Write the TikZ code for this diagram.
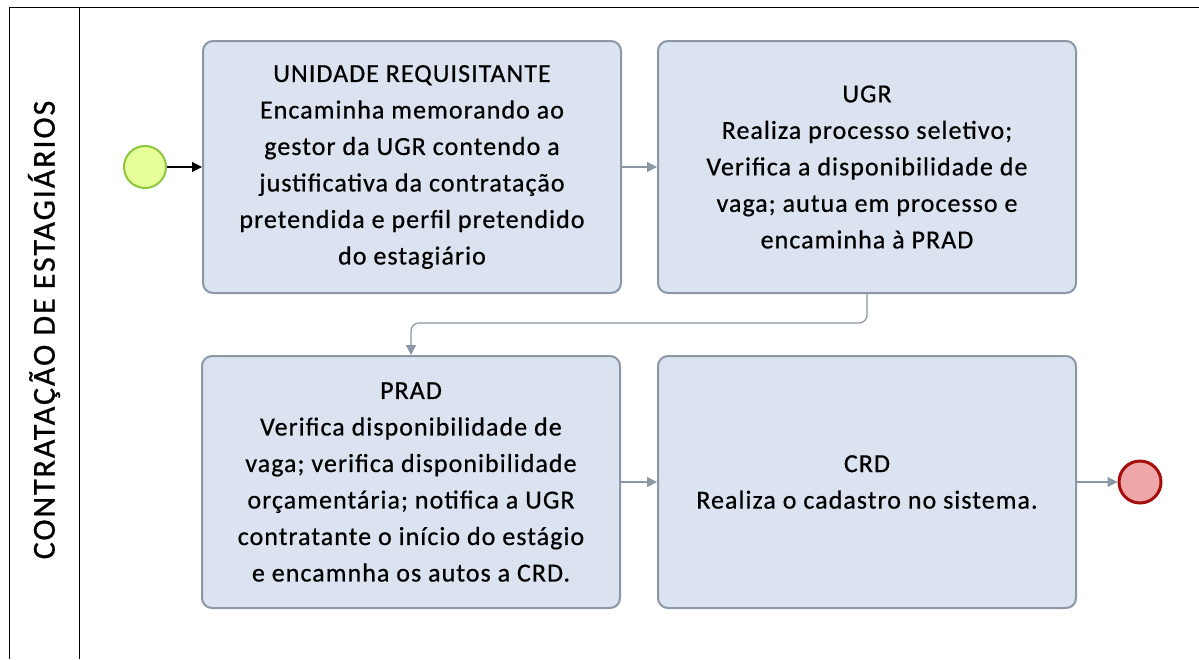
\documentclass[tikz,border=0pt]{standalone}
\usepackage{fontspec}
\setmainfont{Carlito}
\newfontfamily\boxfont[LetterSpace=4,FakeBold=0.6]{Carlito}
\newfontfamily\lanefont[LetterSpace=6,FakeBold=0.8]{Carlito}
\usetikzlibrary{arrows.meta}
\definecolor{boxfill}{HTML}{DAE3EF}
\definecolor{boxdraw}{HTML}{8C97A6}
\definecolor{startfill}{HTML}{E6FF99}
\definecolor{startdraw}{HTML}{8CC63C}
\definecolor{endfill}{HTML}{EFA6A8}
\definecolor{enddraw}{HTML}{A50D0D}
\tikzset{
  task/.style={draw=boxdraw, fill=boxfill, line width=2pt, rounded corners=10pt,
    minimum width=418pt, minimum height=252pt, align=center, inner sep=0pt,
    font=\boxfont\fontsize{26}{36.5}\selectfont},
  flow/.style={draw=boxdraw, line width=1.3pt, -{Triangle[length=10pt,width=10pt]}},
  startev/.style={circle, draw=startdraw, fill=startfill, line width=2pt, minimum size=42pt, inner sep=0pt},
  endev/.style={circle, draw=enddraw, fill=endfill, line width=3pt, minimum size=42pt, inner sep=0pt},
  frame/.style={draw=black, line width=1pt}
}
\begin{document}
\begin{tikzpicture}[x=1pt,y=-1pt]
\useasboundingbox (0,0) rectangle (1199,659);
% pool frame
\draw[frame] (1199,7) -- (9,7) -- (9,659);
\draw[frame] (79,7) -- (79,659);
\node[rotate=90, font=\lanefont\fontsize{32}{36}\selectfont] (lane) at (44,330) {CONTRATAÇÃO DE ESTAGIÁRIOS};
% tasks
\node[task] (t1) at (412,167) {UNIDADE REQUISITANTE\\Encaminha memorando ao\\gestor da UGR contendo a\\justificativa da contratação\\pretendida e perfil pretendido\\do estagiário};
\node[task] (t2) at (867,167) {UGR\\Realiza processo seletivo;\\Verifica a disponibilidade de\\vaga; autua em processo e\\encaminha à PRAD};
\node[task] (t3) at (411,482) {PRAD\\Verifica disponibilidade de\\vaga; verifica disponibilidade\\orçamentária; notifica a UGR\\contratante o início do estágio\\e encamnha os autos a CRD.};
\node[task] (t4) at (867,482) {CRD\\Realiza o cadastro no sistema.};
% events
\node[startev] (s) at (145,167) {};
\node[endev] (e) at (1140,482) {};
% flows
\draw[line width=1.3pt, -{Triangle[length=10pt,width=10pt]}] (s) -- (t1);
\draw[flow] (t1) -- (t2);
\coordinate (c1) at (867,323);
\draw[flow, rounded corners=8pt] (t2.south) -- (c1) -- (411,323) -- (t3.north);
\draw[flow] (t3) -- (t4);
\draw[flow] (t4) -- (e);
\end{tikzpicture}
\end{document}
